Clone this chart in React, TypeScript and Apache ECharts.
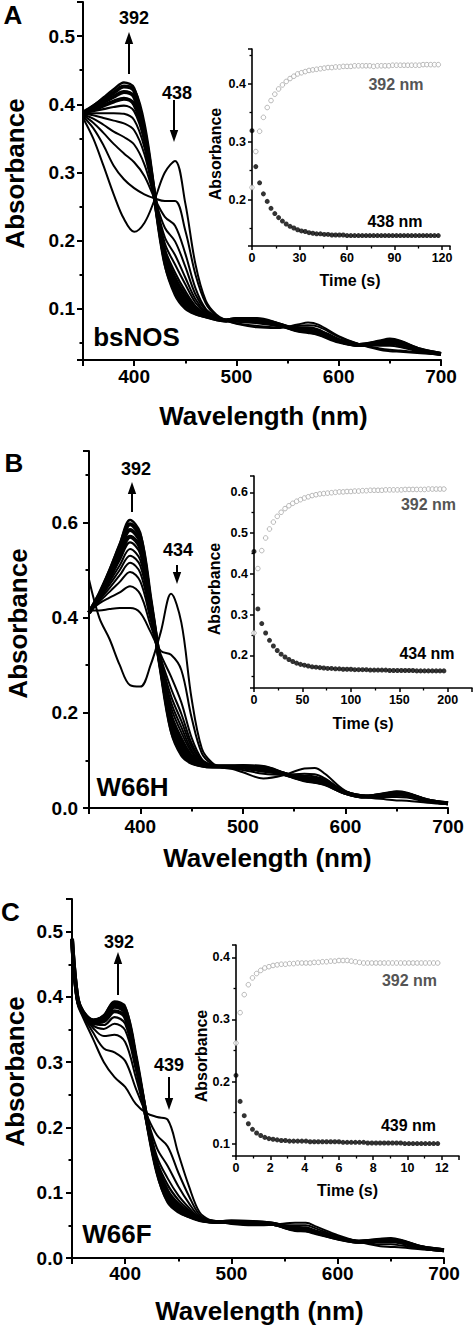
import React, { useEffect, useRef } from "react";
import * as echarts from "echarts";

const FONT = '"Liberation Sans", Arial, Helvetica, sans-serif';

// ---------------- Panel A: bsNOS ----------------
const wavelengthA = [350, 360, 370, 380, 390, 400, 410, 420, 430, 440, 450, 460, 470, 480, 490, 500, 520, 540, 560, 570, 580, 600, 620, 640, 650, 660, 680, 700];
const bsNOS_0 = [0.380, 0.350, 0.310, 0.268, 0.232, 0.213, 0.226, 0.260, 0.300, 0.317, 0.255, 0.165, 0.112, 0.092, 0.083, 0.078, 0.073, 0.072, 0.077, 0.080, 0.077, 0.060, 0.048, 0.040, 0.038, 0.037, 0.035, 0.033];
const bsNOS_1 = [0.382, 0.365, 0.340, 0.310, 0.290, 0.277, 0.268, 0.262, 0.258, 0.258, 0.215, 0.150, 0.108, 0.090, 0.083, 0.079, 0.075, 0.073, 0.075, 0.076, 0.074, 0.059, 0.048, 0.042, 0.040, 0.039, 0.036, 0.033];
const bsNOS_2 = [0.384, 0.373, 0.358, 0.342, 0.328, 0.315, 0.295, 0.262, 0.235, 0.222, 0.181, 0.130, 0.100, 0.089, 0.083, 0.081, 0.079, 0.075, 0.073, 0.073, 0.070, 0.056, 0.048, 0.046, 0.046, 0.044, 0.037, 0.033];
const bsNOS_3 = [0.385, 0.379, 0.370, 0.360, 0.352, 0.341, 0.312, 0.263, 0.219, 0.199, 0.162, 0.121, 0.098, 0.088, 0.083, 0.082, 0.080, 0.076, 0.072, 0.072, 0.069, 0.055, 0.047, 0.047, 0.048, 0.046, 0.038, 0.034];
const bsNOS_4 = [0.386, 0.384, 0.380, 0.376, 0.372, 0.362, 0.327, 0.263, 0.205, 0.179, 0.146, 0.114, 0.095, 0.087, 0.083, 0.083, 0.081, 0.076, 0.071, 0.070, 0.067, 0.054, 0.047, 0.048, 0.050, 0.048, 0.039, 0.034];
const bsNOS_5 = [0.386, 0.387, 0.387, 0.387, 0.386, 0.377, 0.337, 0.264, 0.196, 0.165, 0.136, 0.109, 0.094, 0.087, 0.083, 0.083, 0.082, 0.077, 0.070, 0.069, 0.066, 0.054, 0.047, 0.049, 0.051, 0.049, 0.039, 0.034];
const bsNOS_6 = [0.387, 0.390, 0.393, 0.396, 0.398, 0.390, 0.346, 0.264, 0.188, 0.153, 0.126, 0.104, 0.092, 0.086, 0.083, 0.084, 0.083, 0.077, 0.070, 0.068, 0.065, 0.053, 0.047, 0.050, 0.052, 0.049, 0.039, 0.034];
const bsNOS_7 = [0.387, 0.392, 0.398, 0.404, 0.408, 0.400, 0.353, 0.264, 0.181, 0.144, 0.119, 0.101, 0.091, 0.086, 0.083, 0.084, 0.084, 0.077, 0.069, 0.068, 0.065, 0.053, 0.047, 0.051, 0.053, 0.050, 0.039, 0.034];
const bsNOS_8 = [0.387, 0.395, 0.403, 0.411, 0.418, 0.411, 0.360, 0.265, 0.174, 0.134, 0.111, 0.097, 0.090, 0.085, 0.083, 0.085, 0.084, 0.078, 0.069, 0.067, 0.064, 0.053, 0.047, 0.051, 0.054, 0.051, 0.040, 0.034];
const bsNOS_9 = [0.388, 0.397, 0.407, 0.417, 0.426, 0.420, 0.366, 0.265, 0.169, 0.126, 0.105, 0.094, 0.089, 0.085, 0.083, 0.085, 0.085, 0.078, 0.068, 0.066, 0.063, 0.052, 0.047, 0.052, 0.055, 0.052, 0.040, 0.034];
const bsNOS_final = [0.388, 0.398, 0.410, 0.422, 0.432, 0.424, 0.362, 0.265, 0.165, 0.120, 0.100, 0.092, 0.088, 0.085, 0.083, 0.085, 0.085, 0.078, 0.068, 0.066, 0.063, 0.052, 0.047, 0.052, 0.055, 0.052, 0.040, 0.034];

const timeA = [0, 2.4, 4.8, 7.2, 9.6, 12, 14.4, 16.8, 19.2, 21.6, 24, 26.4, 28.8, 31.2, 33.6, 36, 38.4, 40.8, 43.2, 45.6, 48, 50.4, 52.8, 55.2, 57.6, 60, 62.4, 64.8, 67.2, 69.6, 72, 74.4, 76.8, 79.2, 81.6, 84, 86.4, 88.8, 91.2, 93.6, 96, 98.4, 100.8, 103.2, 105.6, 108, 110.4, 112.8, 115.2, 117.6];
const bsNOS_392nm = [0.221, 0.283, 0.318, 0.342, 0.359, 0.371, 0.382, 0.391, 0.398, 0.404, 0.409, 0.413, 0.417, 0.419, 0.421, 0.423, 0.424, 0.425, 0.426, 0.427, 0.428, 0.428, 0.429, 0.429, 0.430, 0.430, 0.430, 0.431, 0.431, 0.431, 0.431, 0.431, 0.430, 0.431, 0.431, 0.431, 0.431, 0.432, 0.432, 0.432, 0.432, 0.432, 0.432, 0.432, 0.432, 0.433, 0.433, 0.433, 0.433, 0.433];
const bsNOS_438nm = [0.319, 0.257, 0.229, 0.210, 0.197, 0.185, 0.176, 0.169, 0.163, 0.158, 0.154, 0.151, 0.148, 0.146, 0.145, 0.143, 0.142, 0.141, 0.141, 0.140, 0.140, 0.139, 0.139, 0.139, 0.139, 0.138, 0.138, 0.138, 0.138, 0.138, 0.138, 0.138, 0.138, 0.138, 0.138, 0.138, 0.138, 0.138, 0.138, 0.138, 0.138, 0.138, 0.138, 0.138, 0.138, 0.138, 0.138, 0.138, 0.138, 0.138];

// ---------------- Panel B: W66H ----------------
const wavelengthB = [350, 360, 370, 380, 390, 400, 410, 420, 430, 440, 450, 460, 470, 480, 490, 500, 520, 540, 560, 570, 580, 600, 620, 640, 650, 660, 680, 700];
const w66h_0 = [0.480, 0.400, 0.355, 0.300, 0.258, 0.255, 0.300, 0.370, 0.450, 0.390, 0.230, 0.125, 0.095, 0.085, 0.082, 0.075, 0.062, 0.069, 0.083, 0.084, 0.072, 0.036, 0.023, 0.018, 0.016, 0.015, 0.011, 0.008];
const w66h_1 = [0.415, 0.415, 0.418, 0.420, 0.420, 0.410, 0.370, 0.330, 0.322, 0.290, 0.190, 0.115, 0.092, 0.085, 0.083, 0.080, 0.072, 0.070, 0.072, 0.071, 0.062, 0.034, 0.024, 0.023, 0.023, 0.022, 0.013, 0.009];
const w66h_2 = [0.412, 0.430, 0.442, 0.453, 0.466, 0.449, 0.384, 0.322, 0.276, 0.222, 0.148, 0.103, 0.090, 0.086, 0.085, 0.083, 0.076, 0.071, 0.068, 0.066, 0.059, 0.034, 0.024, 0.025, 0.026, 0.024, 0.014, 0.009];
const w66h_3 = [0.412, 0.434, 0.454, 0.475, 0.496, 0.476, 0.396, 0.315, 0.251, 0.198, 0.136, 0.100, 0.090, 0.086, 0.085, 0.084, 0.078, 0.071, 0.066, 0.063, 0.057, 0.033, 0.024, 0.026, 0.028, 0.025, 0.014, 0.009];
const w66h_4 = [0.411, 0.437, 0.462, 0.489, 0.515, 0.494, 0.404, 0.311, 0.235, 0.183, 0.129, 0.098, 0.089, 0.086, 0.086, 0.085, 0.080, 0.071, 0.064, 0.062, 0.056, 0.033, 0.024, 0.027, 0.029, 0.026, 0.015, 0.009];
const w66h_5 = [0.411, 0.439, 0.469, 0.500, 0.530, 0.509, 0.410, 0.307, 0.222, 0.170, 0.122, 0.096, 0.089, 0.087, 0.086, 0.085, 0.081, 0.072, 0.063, 0.060, 0.055, 0.033, 0.024, 0.028, 0.029, 0.027, 0.015, 0.010];
const w66h_6 = [0.411, 0.441, 0.475, 0.510, 0.544, 0.521, 0.416, 0.304, 0.211, 0.159, 0.117, 0.094, 0.088, 0.087, 0.086, 0.086, 0.082, 0.072, 0.062, 0.059, 0.054, 0.033, 0.024, 0.028, 0.030, 0.027, 0.015, 0.010];
const w66h_7 = [0.411, 0.443, 0.480, 0.521, 0.558, 0.534, 0.421, 0.301, 0.199, 0.148, 0.111, 0.093, 0.088, 0.087, 0.086, 0.086, 0.083, 0.072, 0.061, 0.058, 0.053, 0.033, 0.024, 0.028, 0.031, 0.028, 0.015, 0.010];
const w66h_8 = [0.410, 0.445, 0.486, 0.530, 0.570, 0.546, 0.426, 0.298, 0.189, 0.138, 0.107, 0.092, 0.088, 0.087, 0.087, 0.087, 0.084, 0.072, 0.060, 0.057, 0.052, 0.032, 0.024, 0.029, 0.031, 0.029, 0.016, 0.010];
const w66h_9 = [0.410, 0.447, 0.491, 0.540, 0.584, 0.559, 0.432, 0.295, 0.177, 0.127, 0.101, 0.090, 0.087, 0.087, 0.087, 0.087, 0.085, 0.072, 0.059, 0.056, 0.051, 0.032, 0.024, 0.029, 0.032, 0.029, 0.016, 0.010];
const w66h_10 = [0.410, 0.449, 0.496, 0.549, 0.596, 0.570, 0.437, 0.292, 0.167, 0.117, 0.097, 0.089, 0.087, 0.087, 0.087, 0.088, 0.086, 0.072, 0.058, 0.055, 0.050, 0.032, 0.024, 0.030, 0.033, 0.030, 0.016, 0.010];
const w66h_final = [0.410, 0.450, 0.500, 0.555, 0.605, 0.578, 0.440, 0.290, 0.160, 0.110, 0.093, 0.088, 0.087, 0.087, 0.087, 0.088, 0.086, 0.072, 0.058, 0.054, 0.050, 0.032, 0.024, 0.030, 0.033, 0.030, 0.016, 0.010];

const timeB = [0, 4, 8, 12, 16, 20, 24, 28, 32, 36, 40, 44, 48, 52, 56, 60, 64, 68, 72, 76, 80, 84, 88, 92, 96, 100, 104, 108, 112, 116, 120, 124, 128, 132, 136, 140, 144, 148, 152, 156, 160, 164, 168, 172, 176, 180, 184, 188, 192, 196];
const w66h_392nm = [0.255, 0.413, 0.457, 0.488, 0.510, 0.527, 0.541, 0.551, 0.560, 0.567, 0.573, 0.578, 0.582, 0.586, 0.589, 0.592, 0.594, 0.596, 0.597, 0.598, 0.599, 0.600, 0.601, 0.601, 0.602, 0.602, 0.603, 0.603, 0.604, 0.604, 0.605, 0.605, 0.605, 0.605, 0.606, 0.606, 0.606, 0.606, 0.606, 0.607, 0.607, 0.607, 0.607, 0.607, 0.607, 0.608, 0.608, 0.608, 0.608, 0.608];
const w66h_434nm = [0.455, 0.314, 0.278, 0.255, 0.237, 0.223, 0.212, 0.203, 0.196, 0.190, 0.185, 0.181, 0.178, 0.176, 0.174, 0.172, 0.171, 0.170, 0.169, 0.168, 0.168, 0.167, 0.167, 0.166, 0.166, 0.166, 0.165, 0.165, 0.165, 0.165, 0.164, 0.164, 0.164, 0.164, 0.164, 0.163, 0.163, 0.163, 0.163, 0.163, 0.163, 0.163, 0.162, 0.162, 0.162, 0.162, 0.162, 0.162, 0.162, 0.162];

// ---------------- Panel C: W66F ----------------
const wavelengthC = [350, 355, 360, 370, 380, 390, 400, 410, 420, 430, 440, 450, 460, 470, 480, 490, 500, 520, 540, 560, 570, 580, 600, 620, 640, 650, 660, 680, 700];
const w66f_0 = [0.470, 0.390, 0.370, 0.335, 0.300, 0.277, 0.262, 0.236, 0.222, 0.216, 0.212, 0.160, 0.110, 0.070, 0.058, 0.055, 0.052, 0.050, 0.051, 0.054, 0.054, 0.048, 0.035, 0.025, 0.018, 0.017, 0.016, 0.013, 0.011];
const w66f_1 = [0.476, 0.393, 0.373, 0.345, 0.321, 0.315, 0.302, 0.260, 0.220, 0.188, 0.171, 0.131, 0.095, 0.066, 0.057, 0.055, 0.053, 0.052, 0.051, 0.050, 0.050, 0.045, 0.033, 0.025, 0.021, 0.021, 0.019, 0.014, 0.011];
const w66f_2 = [0.481, 0.396, 0.374, 0.352, 0.340, 0.342, 0.331, 0.277, 0.218, 0.168, 0.141, 0.110, 0.084, 0.063, 0.057, 0.055, 0.054, 0.053, 0.052, 0.048, 0.047, 0.042, 0.032, 0.025, 0.024, 0.024, 0.022, 0.015, 0.012];
const w66f_3 = [0.484, 0.397, 0.376, 0.356, 0.351, 0.359, 0.349, 0.289, 0.217, 0.155, 0.122, 0.096, 0.077, 0.061, 0.057, 0.055, 0.055, 0.054, 0.052, 0.046, 0.045, 0.041, 0.031, 0.025, 0.025, 0.026, 0.023, 0.015, 0.012];
const w66f_4 = [0.486, 0.398, 0.376, 0.359, 0.357, 0.369, 0.359, 0.294, 0.216, 0.148, 0.112, 0.089, 0.073, 0.060, 0.056, 0.055, 0.055, 0.054, 0.052, 0.045, 0.045, 0.040, 0.031, 0.025, 0.026, 0.026, 0.024, 0.015, 0.012];
const w66f_5 = [0.487, 0.399, 0.377, 0.361, 0.363, 0.378, 0.369, 0.300, 0.216, 0.141, 0.102, 0.082, 0.069, 0.060, 0.056, 0.055, 0.055, 0.054, 0.052, 0.044, 0.044, 0.039, 0.031, 0.025, 0.027, 0.027, 0.025, 0.016, 0.012];
const w66f_6 = [0.489, 0.399, 0.377, 0.363, 0.367, 0.385, 0.376, 0.304, 0.215, 0.136, 0.094, 0.076, 0.066, 0.059, 0.056, 0.055, 0.056, 0.055, 0.052, 0.044, 0.043, 0.039, 0.030, 0.025, 0.027, 0.028, 0.025, 0.016, 0.012];
const w66f_7 = [0.489, 0.400, 0.378, 0.364, 0.370, 0.390, 0.381, 0.308, 0.215, 0.133, 0.089, 0.073, 0.064, 0.058, 0.056, 0.055, 0.056, 0.055, 0.052, 0.043, 0.042, 0.038, 0.030, 0.025, 0.028, 0.029, 0.026, 0.016, 0.012];
const w66f_final = [0.490, 0.400, 0.378, 0.365, 0.372, 0.393, 0.385, 0.310, 0.215, 0.130, 0.085, 0.070, 0.063, 0.058, 0.056, 0.055, 0.056, 0.055, 0.052, 0.043, 0.042, 0.038, 0.030, 0.025, 0.028, 0.029, 0.026, 0.016, 0.012];

const timeC = [0, 0.24, 0.48, 0.72, 0.96, 1.2, 1.44, 1.68, 1.92, 2.16, 2.4, 2.64, 2.88, 3.12, 3.36, 3.6, 3.84, 4.08, 4.32, 4.56, 4.8, 5.04, 5.28, 5.52, 5.76, 6, 6.24, 6.48, 6.72, 6.96, 7.2, 7.44, 7.68, 7.92, 8.16, 8.4, 8.64, 8.88, 9.12, 9.36, 9.6, 9.84, 10.08, 10.32, 10.56, 10.8, 11.04, 11.28, 11.52, 11.76];
const w66f_392nm = [0.262, 0.311, 0.340, 0.356, 0.367, 0.374, 0.379, 0.383, 0.385, 0.387, 0.388, 0.389, 0.389, 0.390, 0.390, 0.391, 0.391, 0.391, 0.391, 0.392, 0.392, 0.393, 0.393, 0.394, 0.394, 0.395, 0.395, 0.395, 0.394, 0.393, 0.392, 0.391, 0.391, 0.391, 0.391, 0.391, 0.391, 0.391, 0.391, 0.391, 0.391, 0.391, 0.391, 0.391, 0.391, 0.391, 0.391, 0.391, 0.391, 0.391];
const w66f_439nm = [0.210, 0.168, 0.145, 0.132, 0.123, 0.117, 0.113, 0.110, 0.108, 0.107, 0.106, 0.105, 0.105, 0.104, 0.104, 0.104, 0.104, 0.104, 0.103, 0.103, 0.103, 0.103, 0.103, 0.103, 0.103, 0.103, 0.102, 0.102, 0.102, 0.102, 0.102, 0.102, 0.101, 0.101, 0.101, 0.101, 0.101, 0.101, 0.101, 0.101, 0.101, 0.100, 0.100, 0.100, 0.100, 0.100, 0.100, 0.100, 0.100, 0.100];

const spectraA = [bsNOS_0, bsNOS_1, bsNOS_2, bsNOS_3, bsNOS_4, bsNOS_5, bsNOS_6, bsNOS_7, bsNOS_8, bsNOS_9, bsNOS_final];
const widthsA = [2, 2, 2, 2, 2, 2, 2.2, 4, 4, 4, 2.4];
const spectraB = [w66h_0, w66h_1, w66h_2, w66h_3, w66h_4, w66h_5, w66h_6, w66h_7, w66h_8, w66h_9, w66h_10, w66h_final];
const widthsB = [2, 2, 2, 2, 2, 2, 2, 2.2, 4, 4, 4, 2.4];
const spectraC = [w66f_0, w66f_1, w66f_2, w66f_3, w66f_4, w66f_5, w66f_6, w66f_7, w66f_final];
const widthsC = [2, 2, 2, 2, 2.2, 4, 4, 4, 2.4];

const lbl = (size: number, margin: number, extra: any = {}) => ({
  margin,
  fontSize: size,
  fontWeight: "bold",
  color: "#000",
  fontFamily: FONT,
  ...extra,
});

function mainAxis(gridIndex: number, range: any, labelMargin: number, extraLabel: any = {}) {
  return {
    type: "value",
    gridIndex,
    ...range,
    axisLine: { show: true, onZero: false, lineStyle: { color: "#000", width: 2 } },
    axisTick: { show: true, length: 6, lineStyle: { color: "#000", width: 2 } },
    minorTick: { show: true, splitNumber: 2, length: 3.5, lineStyle: { color: "#000", width: 2 } },
    splitLine: { show: false },
    minorSplitLine: { show: false },
    axisLabel: lbl(19, labelMargin, extraLabel),
  };
}

function insetAxis(gridIndex: number, range: any, labelMargin: number, extraLabel: any = {}) {
  return {
    type: "value",
    gridIndex,
    ...range,
    axisLine: { show: true, onZero: false, lineStyle: { color: "#000", width: 1.6 } },
    axisTick: { show: true, length: 4, lineStyle: { color: "#000", width: 1.5 } },
    minorTick: { show: true, splitNumber: 2, length: 2.5, lineStyle: { color: "#000", width: 1.3 } },
    splitLine: { show: false },
    minorSplitLine: { show: false },
    axisLabel: lbl(12.5, labelMargin, extraLabel),
  };
}

const fmt1 = (v: number) => v.toFixed(1);

function spectraSeries(wl: number[], list: number[][], widths: number[], axisIndex: number) {
  return list.map((arr, k) => ({
    type: "line",
    xAxisIndex: axisIndex,
    yAxisIndex: axisIndex,
    data: wl.map((w, i) => [w, arr[i]]),
    showSymbol: false,
    symbol: "none",
    smooth: 0.35,
    lineStyle: { color: "#000", width: widths[k] },
    silent: true,
    z: 2,
  }));
}

function kineticSeries(t: number[], open: number[], filled: number[], axisIndex: number) {
  return [
    {
      type: "scatter",
      xAxisIndex: axisIndex,
      yAxisIndex: axisIndex,
      data: t.map((x, i) => [x, open[i]]),
      symbol: "circle",
      symbolSize: 4.6,
      itemStyle: { color: "#fff", borderColor: "#9c9c9c", borderWidth: 0.9 },
      silent: true,
      z: 3,
    },
    {
      type: "scatter",
      xAxisIndex: axisIndex,
      yAxisIndex: axisIndex,
      data: t.map((x, i) => [x, filled[i]]),
      symbol: "circle",
      symbolSize: 5,
      itemStyle: { color: "#000" },
      silent: true,
      z: 3,
    },
  ];
}

function txt(text: string, x: number, y: number, size: number, color = "#000", rot = 0) {
  return {
    type: "text",
    x,
    y,
    rotation: rot,
    silent: true,
    z: 100,
    style: {
      text,
      x: 0,
      y: 0,
      font: `bold ${size}px ${FONT}`,
      fill: color,
      align: "center",
      verticalAlign: "middle",
      textAlign: "center",
      textVerticalAlign: "middle",
    },
  };
}

function arrow(x: number, from: number, tip: number) {
  const dir = tip < from ? 1 : -1; // 1 = pointing up
  const base = tip + dir * 12;
  return [
    { type: "line", silent: true, z: 100, shape: { x1: x, y1: from, x2: x, y2: base }, style: { stroke: "#000", lineWidth: 2 } },
    { type: "polygon", silent: true, z: 100, shape: { points: [[x, tip], [x - 4.2, base], [x + 4.2, base]] }, style: { fill: "#000" } },
  ];
}

export default function App() {
  const ref = useRef<HTMLDivElement>(null);

  useEffect(() => {
    if (!ref.current) return;
    const chart = echarts.init(ref.current, null, { renderer: "svg" });
    const R = Math.PI / 2;
    const option: any = {
      animation: false,
      backgroundColor: "#fff",
      grid: [
        { left: 83, top: 2, width: 358, height: 358, containLabel: false, outerBoundsMode: "none" },
        { left: 252, top: 49, width: 198, height: 197, containLabel: false, outerBoundsMode: "none" },
        { left: 89, top: 451, width: 359, height: 357, containLabel: false, outerBoundsMode: "none" },
        { left: 254, top: 476, width: 218, height: 212, containLabel: false, outerBoundsMode: "none" },
        { left: 72, top: 899, width: 372, height: 359, containLabel: false, outerBoundsMode: "none" },
        { left: 236, top: 945, width: 223, height: 211, containLabel: false, outerBoundsMode: "none" },
      ],
      xAxis: [
        mainAxis(0, { min: 350, max: 700, splitNumber: 4 }, 7, { showMinLabel: false }),
        insetAxis(1, { min: 0, max: 125, interval: 30 }, 5, { showMaxLabel: false }),
        mainAxis(2, { min: 350, max: 700, splitNumber: 4 }, 9, { showMinLabel: false }),
        insetAxis(3, { min: 0, max: 225, interval: 50 }, 5, { showMaxLabel: false }),
        mainAxis(4, { min: 350, max: 700, splitNumber: 4 }, 6, { showMinLabel: false }),
        insetAxis(5, { min: 0, max: 13, interval: 2 }, 5, { showMaxLabel: false }),
      ],
      yAxis: [
        mainAxis(0, { min: 0.025, max: 0.55, splitNumber: 5 }, 8, { showMinLabel: false, showMaxLabel: false, formatter: fmt1 }),
        insetAxis(1, { min: 0.12, max: 0.46, splitNumber: 3 }, 6, { showMinLabel: false, showMaxLabel: false, formatter: fmt1 }),
        mainAxis(2, { min: 0, max: 0.75, interval: 0.2 }, 11, { showMaxLabel: false, formatter: fmt1 }),
        insetAxis(3, { min: 0.12, max: 0.64, splitNumber: 5 }, 6, { showMinLabel: false, showMaxLabel: false, formatter: fmt1 }),
        mainAxis(4, { min: 0, max: 0.55, interval: 0.1 }, 9, { showMaxLabel: false, formatter: fmt1 }),
        insetAxis(5, { min: 0.08, max: 0.42, splitNumber: 3 }, 6, { showMinLabel: false, showMaxLabel: false, formatter: fmt1 }),
      ],
      series: [
        ...spectraSeries(wavelengthA, spectraA, widthsA, 0),
        ...kineticSeries(timeA, bsNOS_392nm, bsNOS_438nm, 1),
        ...spectraSeries(wavelengthB, spectraB, widthsB, 2),
        ...kineticSeries(timeB, w66h_392nm, w66h_434nm, 3),
        ...spectraSeries(wavelengthC, spectraC, widthsC, 4),
        ...kineticSeries(timeC, w66f_392nm, w66f_439nm, 5),
      ],
      graphic: {
        elements: [
          // Panel A
          txt("A", 13, 15, 26),
          txt("Absorbance", 15, 173.5, 26, "#000", R),
          txt("Wavelength (nm)", 263.5, 415.5, 26),
          txt("392", 134, 17.5, 18),
          txt("438", 177, 92.5, 18),
          ...arrow(129, 74, 32),
          ...arrow(174, 100, 142),
          txt("bsNOS", 136.5, 337, 26),
          txt("Absorbance", 215.5, 154, 16, "#000", R),
          txt("Time (s)", 350, 280.5, 16),
          txt("392 nm", 396, 84.5, 16, "#555"),
          txt("438 nm", 395, 221.5, 16),
          // Panel B
          txt("B", 14, 463, 26),
          txt("Absorbance", 17.5, 623.5, 26, "#000", R),
          txt("Wavelength (nm)", 267.5, 857.5, 26),
          txt("392", 136, 468.5, 18),
          txt("434", 178, 549.5, 18),
          ...arrow(132, 512, 482),
          ...arrow(177, 565, 584),
          txt("W66H", 132.5, 787, 26),
          txt("Absorbance", 214.5, 589, 16, "#000", R),
          txt("Time (s)", 363, 723.5, 16),
          txt("392 nm", 428.5, 504.5, 16, "#555"),
          txt("434 nm", 427, 653.5, 16),
          // Panel C
          txt("C", 10.5, 912, 26),
          txt("Absorbance", 15, 1071.5, 26, "#000", R),
          txt("Wavelength (nm)", 259.5, 1310.5, 26),
          txt("392", 119, 941.5, 18),
          txt("439", 169, 1064.5, 18),
          ...arrow(118, 995, 952),
          ...arrow(169, 1077, 1110),
          txt("W66F", 117, 1234, 26),
          txt("Absorbance", 201.5, 1056, 16, "#000", R),
          txt("Time (s)", 347.5, 1190.5, 16),
          txt("392 nm", 409.5, 980.5, 16, "#555"),
          txt("439 nm", 408.5, 1125.5, 16),
        ],
      },
    };
    chart.setOption(option);
    return () => chart.dispose();
  }, []);

  return (
    <div
      ref={ref}
      style={{ position: "absolute", left: 0, top: 0, width: 475, height: 1330, background: "#fff" }}
    />
  );
}
